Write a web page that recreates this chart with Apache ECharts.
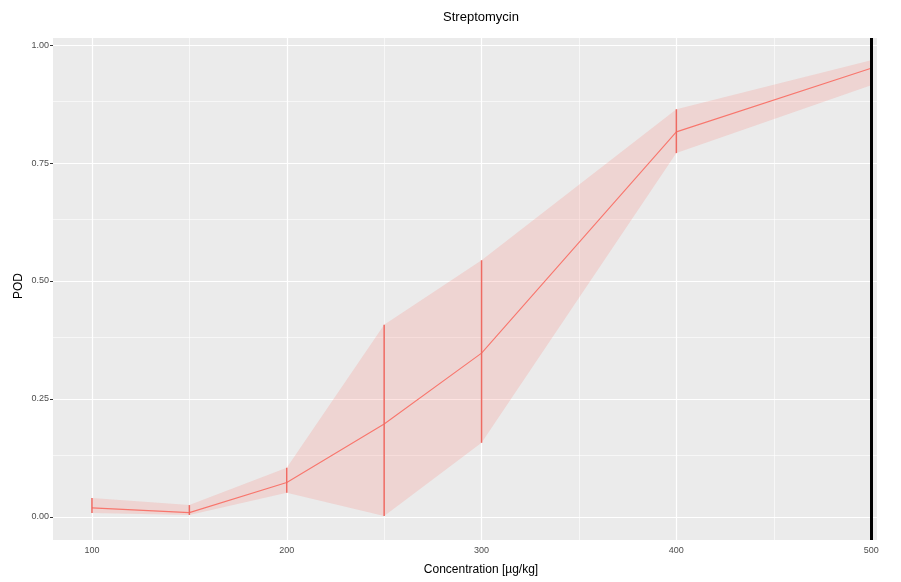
<!DOCTYPE html>
<html>
<head>
<meta charset="utf-8">
<script src="https://cdn.jsdelivr.net/npm/echarts@6/dist/echarts.min.js"></script>
<style>html,body{margin:0;padding:0;background:#fff}#c{width:901px;height:582px}</style>
</head>
<body>
<div id="c"></div>
<script>
// ---- data ----
var concentrations = [100, 150, 200, 250, 300, 400, 500];
var podValues      = [0.019, 0.009, 0.073, 0.197, 0.347, 0.816, 0.951];
var lowerBounds    = [0.008, 0.004, 0.051, 0.002, 0.157, 0.771, 0.915];
var upperBounds    = [0.040, 0.025, 0.104, 0.407, 0.544, 0.864, 0.968];
var xMajorTicks    = [100, 200, 300, 400, 500];
var xMinorTicks    = [150, 250, 350, 450];
var yMajorTicks    = [0, 0.25, 0.5, 0.75, 1.0];
var yMinorTicks    = [0.125, 0.375, 0.625, 0.875];
var vlineX         = 500;
var titleText      = 'Streptomycin';
var xTitle         = 'Concentration [µg/kg]';
var yTitle         = 'POD';

var FONT = 'Liberation Sans, Arial, sans-serif';
var RED = '#F8766D';

var chart = echarts.init(document.getElementById('c'), null, {renderer: 'canvas'});

var linePts = concentrations.map(function (x, i) { return [x, podValues[i]]; });
var barData = concentrations.map(function (x, i) { return [x, lowerBounds[i], upperBounds[i]]; });

var gridLines = []
  .concat(xMajorTicks.map(function (v) { return {xAxis: v, lineStyle: {width: 1.2}}; }))
  .concat(xMinorTicks.map(function (v) { return {xAxis: v, lineStyle: {width: 0.6}}; }))
  .concat(yMajorTicks.map(function (v) { return {yAxis: v, lineStyle: {width: 1.2}}; }))
  .concat(yMinorTicks.map(function (v) { return {yAxis: v, lineStyle: {width: 0.6}}; }));

var option = {
  animation: false,
  backgroundColor: '#ffffff',
  grid: {left: 53, right: 24, top: 38, bottom: 42, show: true, backgroundColor: '#EBEBEB', borderWidth: 0},
  xAxis: {
    type: 'value', min: 80, max: 503,
    axisLine: {show: false},
    splitLine: {show: false},
    axisTick: {show: true, customValues: xMajorTicks, length: 3, lineStyle: {color: '#333333', width: 1}},
    axisLabel: {customValues: xMajorTicks, color: '#4D4D4D', fontSize: 9, fontFamily: FONT, margin: 6}
  },
  yAxis: {
    type: 'value', min: -0.049, max: 1.015,
    axisLine: {show: false},
    splitLine: {show: false},
    axisTick: {show: true, customValues: yMajorTicks, length: 3, lineStyle: {color: '#333333', width: 1}},
    axisLabel: {customValues: yMajorTicks, color: '#4D4D4D', fontSize: 9, fontFamily: FONT, margin: 4,
      formatter: function (v) { return v.toFixed(2); }}
  },
  graphic: [
    {type: 'text', position: [481, 11], style: {text: titleText, fill: '#000', font: '13px ' + FONT, textAlign: 'center', textVerticalAlign: 'top'}, silent: true},
    {type: 'text', position: [481, 570], style: {text: xTitle, fill: '#000', font: '12px ' + FONT, textAlign: 'center', textVerticalAlign: 'middle'}, silent: true},
    {type: 'text', position: [19, 286], rotation: Math.PI / 2, style: {text: yTitle, fill: '#000', font: '12px ' + FONT, textAlign: 'center', textVerticalAlign: 'middle'}, silent: true}
  ],
  series: [
    {
      name: 'grid', type: 'line', data: linePts, z: 1, symbol: 'none', silent: true,
      lineStyle: {opacity: 0},
      markLine: {silent: true, z: 1, symbol: ['none', 'none'], label: {show: false},
        lineStyle: {color: '#FFFFFF', type: 'solid'}, data: gridLines}
    },
    {
      name: 'ribbon', type: 'custom', z: 2, silent: true, data: barData,
      renderItem: function (params, api) {
        if (params.dataIndex !== 0) return null;
        var pts = [];
        for (var i = 0; i < concentrations.length; i++) pts.push(api.coord([concentrations[i], upperBounds[i]]));
        for (var j = concentrations.length - 1; j >= 0; j--) pts.push(api.coord([concentrations[j], lowerBounds[j]]));
        return {type: 'polygon', shape: {points: pts}, style: {fill: 'rgba(248,118,109,0.2)', stroke: 'none'}};
      }
    },
    {
      name: 'pod', type: 'line', z: 3, data: linePts, symbol: 'none', silent: true,
      lineStyle: {color: RED, width: 1.1}
    },
    {
      name: 'errbars', type: 'custom', z: 4, silent: true, data: barData,
      renderItem: function (params, api) {
        var lo = api.coord([api.value(0), api.value(1)]);
        var hi = api.coord([api.value(0), api.value(2)]);
        return {type: 'line', shape: {x1: lo[0], y1: lo[1], x2: hi[0], y2: hi[1]}, style: {stroke: '#EE6A62', lineWidth: 1.5}};
      }
    },
    {
      name: 'vline', type: 'line', z: 10, data: [], silent: true,
      markLine: {silent: true, z: 10, symbol: ['none', 'none'], label: {show: false},
        lineStyle: {color: '#000000', width: 3, type: 'solid'}, data: [{xAxis: vlineX}]}
    }
  ]
};
chart.setOption(option);
</script>
</body>
</html>
